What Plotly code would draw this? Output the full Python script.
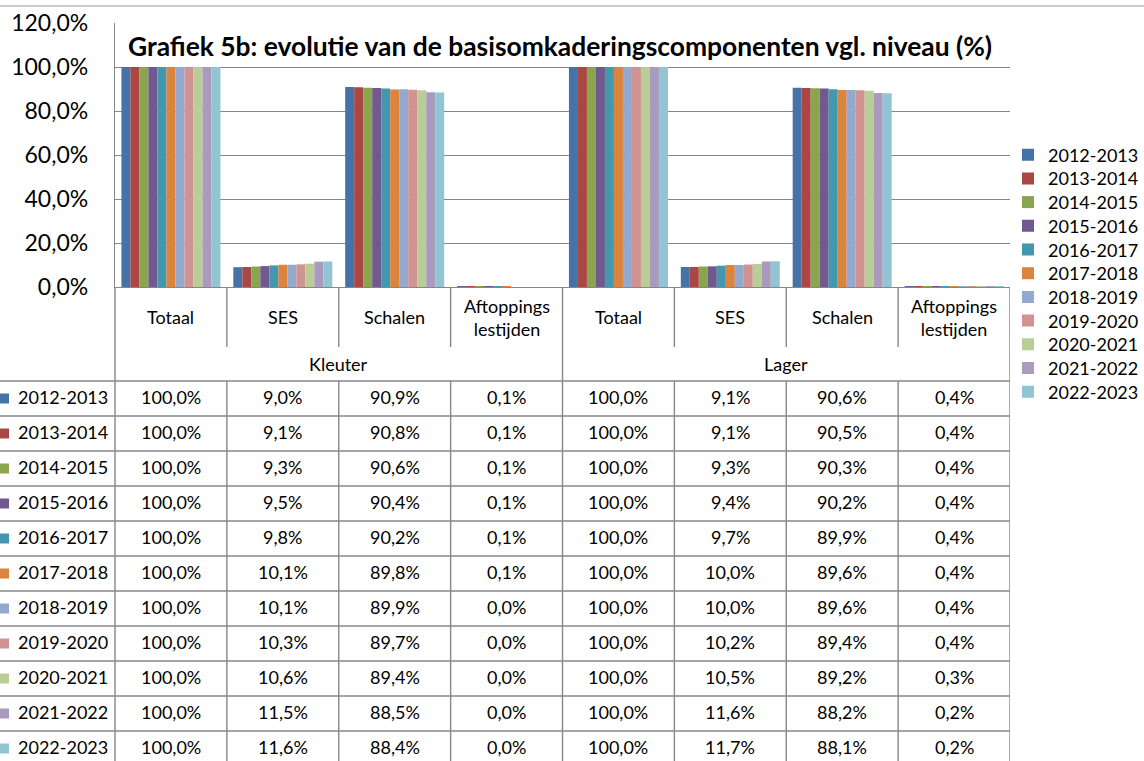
import plotly.graph_objects as go

# ---------------- data ----------------
years = ["2012-2013", "2013-2014", "2014-2015", "2015-2016", "2016-2017", "2017-2018",
         "2018-2019", "2019-2020", "2020-2021", "2021-2022", "2022-2023"]
levels = ["Kleuter", "Lager"]
components = ["Totaal", "SES", "Schalen", "Aftoppings<br>lestijden"]

kleuter_totaal = [100.0, 100.0, 100.0, 100.0, 100.0, 100.0, 100.0, 100.0, 100.0, 100.0, 100.0]
kleuter_ses = [9.0, 9.1, 9.3, 9.5, 9.8, 10.1, 10.1, 10.3, 10.6, 11.5, 11.6]
kleuter_schalen = [90.9, 90.8, 90.6, 90.4, 90.2, 89.8, 89.9, 89.7, 89.4, 88.5, 88.4]
kleuter_aftop = [0.1, 0.1, 0.1, 0.1, 0.1, 0.1, 0.0, 0.0, 0.0, 0.0, 0.0]
lager_totaal = [100.0, 100.0, 100.0, 100.0, 100.0, 100.0, 100.0, 100.0, 100.0, 100.0, 100.0]
lager_ses = [9.1, 9.1, 9.3, 9.4, 9.7, 10.0, 10.0, 10.2, 10.5, 11.6, 11.7]
lager_schalen = [90.6, 90.5, 90.3, 90.2, 89.9, 89.6, 89.6, 89.4, 89.2, 88.2, 88.1]
lager_aftop = [0.4, 0.4, 0.4, 0.4, 0.4, 0.4, 0.4, 0.4, 0.3, 0.2, 0.2]

y_ticks = [0, 20, 40, 60, 80, 100, 120]
title_text = "Grafiek 5b: evolutie van de basisomkaderingscomponenten vgl. niveau (%)"

colors = ["#4572A7", "#AA4643", "#89A54E", "#71588F", "#4198AF", "#DB843D",
          "#93A9CF", "#D19392", "#B9CD96", "#A99BBD", "#92C5D3"]

series_cols = [kleuter_totaal, kleuter_ses, kleuter_schalen, kleuter_aftop,
               lager_totaal, lager_ses, lager_schalen, lager_aftop]

# ---------------- layout geometry (pixels) ----------------
W, H = 1144, 761
FONT = "Lato"
LINE = "#878787"
PL, PR, PT, PB = 115, 1010, 23, 287          # plot area
CAT_PX = (PR - PL) / 8.0
ROW_PX = 35.0
HDR1 = (347 - PB) / ROW_PX                   # component header height (rows)
HDR = (381 - PB) / ROW_PX                    # total header height (rows)
X2_LEFT = -0.5 - PL / CAT_PX
TXT_DY = -0.05                               # text sits slightly above row centre


def fmt(v):
    return f"{v:.1f}".replace(".", ",") + "%"


cat_keys = [f"{lv}|{c}" for lv in levels for c in components]

fig = go.Figure()
for i, yr in enumerate(years):
    vals = [col[i] for col in series_cols]
    fig.add_trace(go.Bar(
        x=cat_keys, y=vals, name=yr, marker=dict(color=colors[i], line=dict(width=0)),
        legend="legend" if i == 0 else f"legend{i + 1}",
        xaxis="x", yaxis="y",
    ))

# row-label colour keys in the table
fig.add_trace(go.Scatter(
    x=[X2_LEFT + 4 / CAT_PX] * len(years),
    y=[HDR + r + 0.5 for r in range(len(years))],
    mode="markers", marker=dict(symbol="square", size=10, color=colors),
    xaxis="x2", yaxis="y2", showlegend=False, hoverinfo="skip",
))

annotations = []
# title
annotations.append(dict(text=f"<b>{title_text}</b>", xref="paper", yref="paper",
                        x=560 / W, y=1 - 46 / H, xanchor="center", yanchor="middle",
                        showarrow=False, font=dict(size=26.4, family=FONT, color="black")))
# component headers
for j, key in enumerate(cat_keys):
    annotations.append(dict(text=components[j % 4], xref="x2", yref="y2", x=j, y=HDR1 / 2,
                            xanchor="center", yanchor="middle",
                            showarrow=False, font=dict(size=18, family=FONT, color="black")))
# level headers
for k, lv in enumerate(levels):
    annotations.append(dict(text=lv, xref="x2", yref="y2", x=1.5 + 4 * k, y=(HDR1 + HDR) / 2,
                            xanchor="center", yanchor="middle",
                            showarrow=False, font=dict(size=18, family=FONT, color="black")))
# row labels and values
for r, yr in enumerate(years):
    yc = HDR + r + 0.5 + TXT_DY
    annotations.append(dict(text=yr, xref="x2", yref="y2", x=X2_LEFT + 16 / CAT_PX,
                            y=yc, xanchor="left", yanchor="middle", showarrow=False,
                            font=dict(size=18, family=FONT, color="black")))
    for j, col in enumerate(series_cols):
        annotations.append(dict(text=fmt(col[r]), xref="x2", yref="y2", x=j, y=yc,
                                xanchor="center", yanchor="middle",
                                showarrow=False, font=dict(size=18, family=FONT, color="black")))

shapes = []
BOTTOM = HDR + len(years) + 1
# top border line of the whole chart
shapes.append(dict(type="line", xref="paper", yref="paper", x0=0, x1=1, y0=1 - 6 / H, y1=1 - 6 / H,
                   line=dict(color="#9a9a9a", width=1.2)))
# vertical table lines
for b in range(9):
    xb = b - 0.5
    if b in (0, 4, 8):
        shapes.append(dict(type="line", xref="x2", yref="y2", x0=xb, x1=xb, y0=0, y1=BOTTOM,
                           line=dict(color=LINE, width=1.4)))
    else:
        shapes.append(dict(type="line", xref="x2", yref="y2", x0=xb, x1=xb, y0=0, y1=HDR1,
                           line=dict(color=LINE, width=1.4)))
        shapes.append(dict(type="line", xref="x2", yref="y2", x0=xb, x1=xb, y0=HDR, y1=BOTTOM,
                           line=dict(color=LINE, width=1.4)))
# horizontal table lines
for r in range(len(years) + 1):
    yb = HDR + r
    shapes.append(dict(type="line", xref="x2", yref="y2", x0=X2_LEFT, x1=7.5, y0=yb, y1=yb,
                       line=dict(color=LINE, width=1.4)))

layout = dict(
    width=W, height=H, margin=dict(l=0, r=0, t=0, b=0, pad=0, autoexpand=False),
    paper_bgcolor="white", plot_bgcolor="white",
    font=dict(family=FONT, color="black"),
    barmode="group", bargap=0.115, bargroupgap=0,
    xaxis=dict(domain=[PL / W, PR / W], range=[-0.5, 7.5], type="category",
               categoryorder="array", categoryarray=cat_keys, automargin=False,
               showticklabels=False, showgrid=False, zeroline=False,
               showline=True, linecolor=LINE, linewidth=1.4, ticks="", fixedrange=True),
    yaxis=dict(domain=[1 - PB / H, 1 - PT / H], range=[0, 120], tickvals=y_ticks,
               ticktext=[fmt(v) for v in y_ticks], showgrid=True, gridcolor=LINE, gridwidth=1.2,
               zeroline=False, showline=True, linecolor=LINE, linewidth=1.4, ticks="",
               tickfont=dict(size=23, family=FONT, color="black"), ticklabelstandoff=21,
               fixedrange=True, automargin=False),
    xaxis2=dict(domain=[0, PR / W], range=[X2_LEFT, 7.5], anchor="y2", visible=False,
                fixedrange=True),
    yaxis2=dict(domain=[0, 1 - PB / H], range=[(H - PB) / ROW_PX, 0], anchor="x2",
                visible=False, fixedrange=True),
    annotations=annotations, shapes=shapes,
)
for i in range(len(years)):
    key = "legend" if i == 0 else f"legend{i + 1}"
    layout[key] = dict(x=1008 / W, y=1 - (155 + 23.7 * i) / H, xanchor="left", yanchor="middle",
                       bgcolor="rgba(0,0,0,0)", font=dict(size=18, family=FONT, color="black"),
                       borderwidth=0)

fig.update_layout(**layout)
fig.write_html("out.html", config={"displayModeBar": False},
               post_script="document.body.style.margin='0px';"
                           "document.body.style.overflow='hidden';")
